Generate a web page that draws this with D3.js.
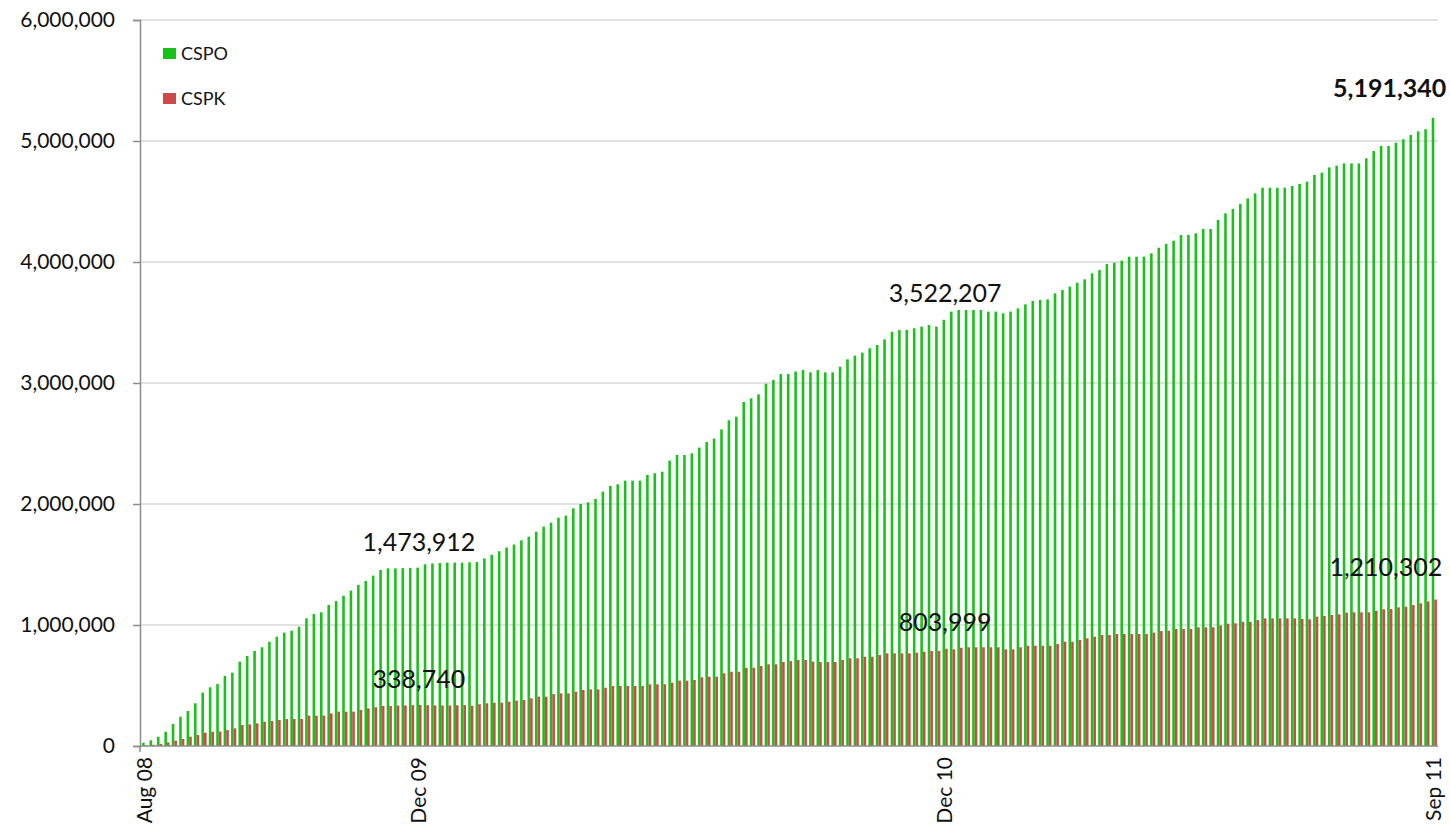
<!DOCTYPE html>
<html><head><meta charset="utf-8">
<script src="https://cdn.jsdelivr.net/npm/d3@7"></script>
<style>
body{margin:0;background:#fff}
svg{display:block}
text{font-family:Lato,"Open Sans",sans-serif;fill:#111}
</style>
</head><body>
<svg id="chart" width="1450" height="833"></svg>
<script>
const seriesNames = ["CSPO", "CSPK"];
const seriesColors = ["#19c219", "#cd4a48"];

const cspo = [
  27000,47000,77000,118000,182000,242000,289000,353000,441000,485000,
  512000,579000,606000,697000,744000,785000,816000,862000,903000,937000,
  953000,986000,1055000,1091000,1105000,1165000,1198000,1242000,1284000,1331000,
  1364000,1408000,1455000,1468000,1468000,1470000,1472000,1473912,1502000,1508000,
  1512000,1515000,1515000,1515000,1518000,1520000,1550000,1580000,1610000,1640000,
  1665000,1700000,1730000,1771000,1813000,1846000,1887000,1904000,1964000,2000000,
  2014000,2041000,2102000,2149000,2163000,2193000,2193000,2193000,2240000,2254000,
  2267000,2358000,2405000,2405000,2419000,2466000,2512000,2540000,2617000,2692000,
  2722000,2843000,2873000,2906000,2994000,3025000,3074000,3074000,3095000,3107000,
  3088000,3107000,3088000,3088000,3135000,3196000,3226000,3251000,3287000,3314000,
  3361000,3424000,3438000,3438000,3452000,3466000,3479000,3466000,3522207,3590000,
  3603000,3603000,3603000,3603000,3590000,3590000,3576000,3590000,3617000,3650000,
  3678000,3686000,3691000,3741000,3769000,3796000,3829000,3857000,3906000,3934000,
  3983000,3994000,4011000,4044000,4044000,4044000,4072000,4118000,4149000,4176000,
  4223000,4223000,4237000,4273000,4273000,4347000,4402000,4438000,4479000,4526000,
  4567000,4614000,4614000,4614000,4614000,4628000,4645000,4664000,4719000,4738000,
  4782000,4796000,4815000,4815000,4815000,4857000,4917000,4959000,4959000,4986000,
  5014000,5050000,5080000,5097000,5191340
];

const cspk = [
  4000,10000,18000,30000,44000,58000,77000,91000,110000,118000,
  120000,132000,146000,174000,179000,187000,201000,207000,215000,223000,
  223000,223000,251000,251000,251000,270000,284000,284000,284000,298000,
  311000,320000,331000,331000,335000,336000,338000,338740,338000,336000,
  335000,335000,337000,339000,333000,345000,353000,358000,358000,366000,
  375000,380000,394000,408000,408000,430000,435000,435000,449000,463000,
  468000,468000,482000,496000,496000,496000,496000,496000,510000,510000,
  510000,523000,540000,540000,545000,568000,573000,573000,601000,614000,
  614000,647000,647000,661000,675000,675000,694000,702000,711000,711000,
  697000,694000,694000,694000,711000,725000,725000,738000,738000,752000,
  766000,766000,766000,766000,771000,779000,785000,785000,803999,799000,
  812000,816000,816000,816000,816000,816000,799000,799000,816000,829000,
  829000,829000,829000,843000,862000,862000,876000,890000,903000,917000,
  917000,926000,926000,926000,926000,926000,937000,950000,953000,967000,
  967000,967000,981000,981000,981000,997000,1011000,1014000,1027000,1027000,
  1041000,1055000,1055000,1055000,1055000,1055000,1050000,1047000,1069000,1074000,
  1083000,1088000,1102000,1105000,1105000,1105000,1118000,1130000,1132000,1146000,
  1151000,1165000,1179000,1195000,1210302
];

const categories = cspo.map((d, i) => i);
const xTickIndex = [0, 37, 108, 174];
const xTickLabels = ["Aug 08", "Dec 09", "Dec 10", "Sep 11"];
const yTickValues = [0, 1000000, 2000000, 3000000, 4000000, 5000000, 6000000];
const calloutIndex = [37, 108, 174];

const svg = d3.select("#chart");
const mLeft = 140, mRight = 1438, mTop = 20, mBottom = 746;

const x0 = d3.scaleBand().domain(categories).range([mLeft + 1, mRight])
  .paddingInner(0.3).paddingOuter(0.15);
const xs = d3.scaleBand().domain(seriesNames).range([0, x0.bandwidth()]);
const y = d3.scaleLinear().domain([0, 6000000]).range([mBottom, mTop]);
const fmt = d3.format(",");

// gridlines
svg.append("g").selectAll("line").data(yTickValues.filter(v => v > 0)).join("line")
  .attr("x1", mLeft).attr("x2", mRight)
  .attr("y1", d => y(d)).attr("y2", d => y(d))
  .attr("stroke", "#d9d9d9").attr("stroke-width", 1.5);

// bars
const data = [cspo, cspk];
data.forEach((series, s) => {
  svg.append("g").selectAll("rect").data(series).join("rect")
    .attr("x", (d, i) => x0(categories[i]) + xs(seriesNames[s]))
    .attr("width", xs.bandwidth())
    .attr("y", d => y(d))
    .attr("height", d => y(0) - y(d))
    .attr("fill", seriesColors[s]);
});

// y axis
const yAxis = d3.axisLeft(y).tickValues(yTickValues).tickFormat(fmt).tickSize(7).tickPadding(18);
const gy = svg.append("g").attr("transform", `translate(${mLeft},0)`).call(yAxis);
gy.select(".domain").attr("stroke", "#8c8c8c").attr("stroke-width", 1.5);
gy.selectAll(".tick line").attr("stroke", "#8c8c8c").attr("stroke-width", 1.5);
gy.selectAll(".tick text").style("font-size", "21px").attr("fill", "#111")
  .style("font-family", "Lato, 'Open Sans', sans-serif");

// x baseline
svg.append("line").attr("x1", mLeft).attr("x2", mRight).attr("y1", y(0)).attr("y2", y(0))
  .attr("stroke", "#8c8c8c").attr("stroke-width", 1.5);
svg.append("line").attr("x1", mLeft).attr("x2", mLeft).attr("y1", y(0)).attr("y2", y(0) + 6)
  .attr("stroke", "#8c8c8c").attr("stroke-width", 1.5);

// x tick labels
svg.append("g").selectAll("text").data(xTickIndex).join("text")
  .attr("transform", d => `translate(${x0(categories[d]) + x0.bandwidth() / 2 + 7},${mBottom + 11}) rotate(-90)`)
  .attr("text-anchor", "end")
  .style("font-size", "21px")
  .text((d, i) => xTickLabels[i]);

// legend
const lg = svg.append("g");
seriesNames.forEach((name, i) => {
  const ly = 53 + i * 45;
  lg.append("rect").attr("x", 163).attr("y", ly - 5).attr("width", 13).attr("height", 11)
    .attr("fill", seriesColors[i]);
  lg.append("text").attr("x", 181).attr("y", ly + 7).style("font-size", "18px").text(name);
});

// callouts
const calloutCfg = [
  [{dx: 0, dy: -17, anchor: "middle", bold: false}, {dx: 0, dy: -18, anchor: "middle", bold: false}, {dx: 12, dy: -21, anchor: "end", bold: true}],
  [{dx: 0, dy: -17, anchor: "middle", bold: false}, {dx: 0, dy: -18, anchor: "middle", bold: false}, {dx: 8, dy: -24, anchor: "end", bold: false}]
];
data.forEach((series, s) => {
  calloutIndex.forEach((idx, k) => {
    const c = calloutCfg[s][k];
    svg.append("text")
      .attr("x", x0(categories[idx]) + x0.bandwidth() / 2 + c.dx)
      .attr("y", y(series[idx]) + c.dy)
      .attr("text-anchor", c.anchor)
      .style("font-size", "25px")
      .style("font-weight", c.bold ? "bold" : "normal")
      .text(fmt(series[idx]));
  });
});
</script>
</body></html>
